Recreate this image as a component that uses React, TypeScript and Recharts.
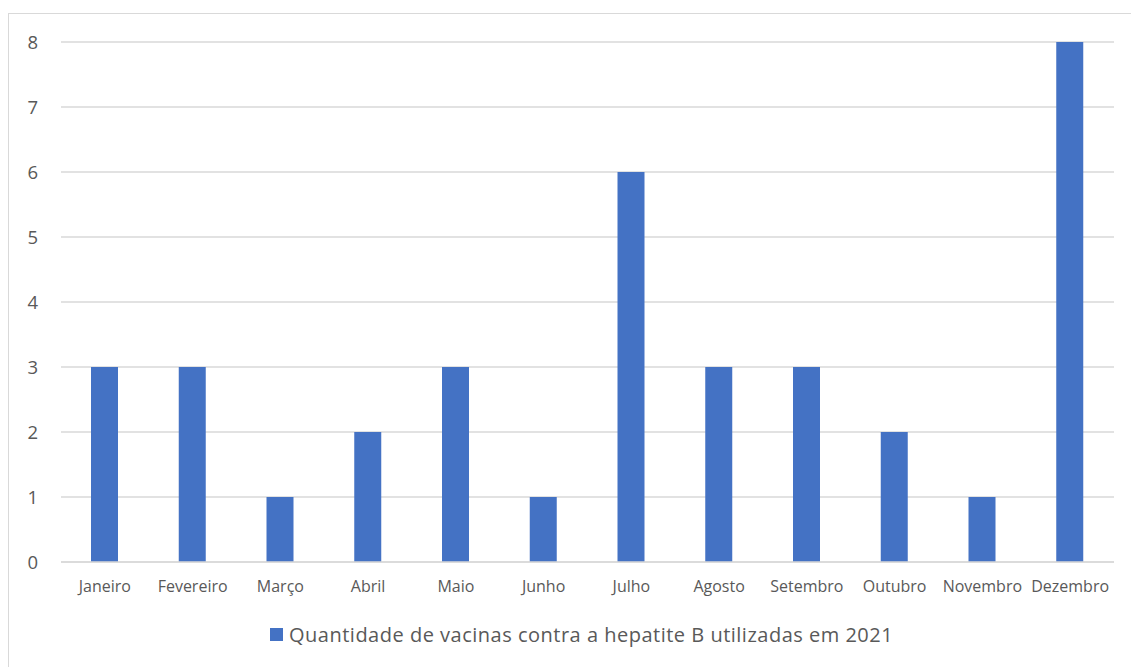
import React from "react";
import { BarChart, Bar, XAxis, YAxis, CartesianGrid } from "recharts";

const months = ["Janeiro", "Fevereiro", "Março", "Abril", "Maio", "Junho", "Julho", "Agosto", "Setembro", "Outubro", "Novembro", "Dezembro"];
const vaccines = [3, 3, 1, 2, 3, 1, 6, 3, 3, 2, 1, 8];
const yTicks = [0, 1, 2, 3, 4, 5, 6, 7, 8];
const seriesName = "Quantidade de vacinas contra a hepatite B utilizadas em 2021";

const data = months.map((m, i) => ({ month: m, value: vaccines[i] }));

const FONT = "'Open Sans', sans-serif";
const TEXT = "#595959";

export default function App() {
  return (
    <div style={{ position: "absolute", left: 0, top: 0, width: 1131, height: 667, background: "#fff", overflow: "hidden" }}>
      <div style={{ position: "absolute", left: 8, top: 13, width: 1140, height: 680, border: "1px solid #d9d9d9", boxSizing: "border-box" }} />
      <div style={{ position: "absolute", left: 0, top: 0 }}>
        <BarChart width={1131} height={667} data={data} margin={{ top: 42, right: 17, bottom: 75, left: 1 }}>
          <CartesianGrid horizontal vertical={false} stroke="#d9d9d9" strokeWidth={1.3} />
          <XAxis
            dataKey="month"
            height={30}
            axisLine={{ stroke: "#d9d9d9", strokeWidth: 1.3 }}
            tickLine={false}
            tickMargin={13}
            interval={0}
            tick={{ fill: TEXT, fontSize: 16, fontFamily: FONT }}
          />
          <YAxis
            width={60}
            domain={[0, 8]}
            ticks={yTicks}
            axisLine={false}
            tickLine={false}
            tickMargin={17}
            tick={{ fill: TEXT, fontSize: 18.5, fontFamily: FONT }}
          />
          <Bar dataKey="value" name={seriesName} fill="#4472C4" barSize={27} isAnimationActive={false} />
        </BarChart>
      </div>
      <div style={{ position: "absolute", left: 270, top: 621, display: "flex", alignItems: "center", fontFamily: FONT, fontSize: 20, letterSpacing: 0.5, color: TEXT, whiteSpace: "nowrap" }}>
        <span style={{ display: "inline-block", width: 13, height: 13, background: "#4472C4", marginRight: 6 }} />
        <span>{seriesName}</span>
      </div>
    </div>
  );
}
